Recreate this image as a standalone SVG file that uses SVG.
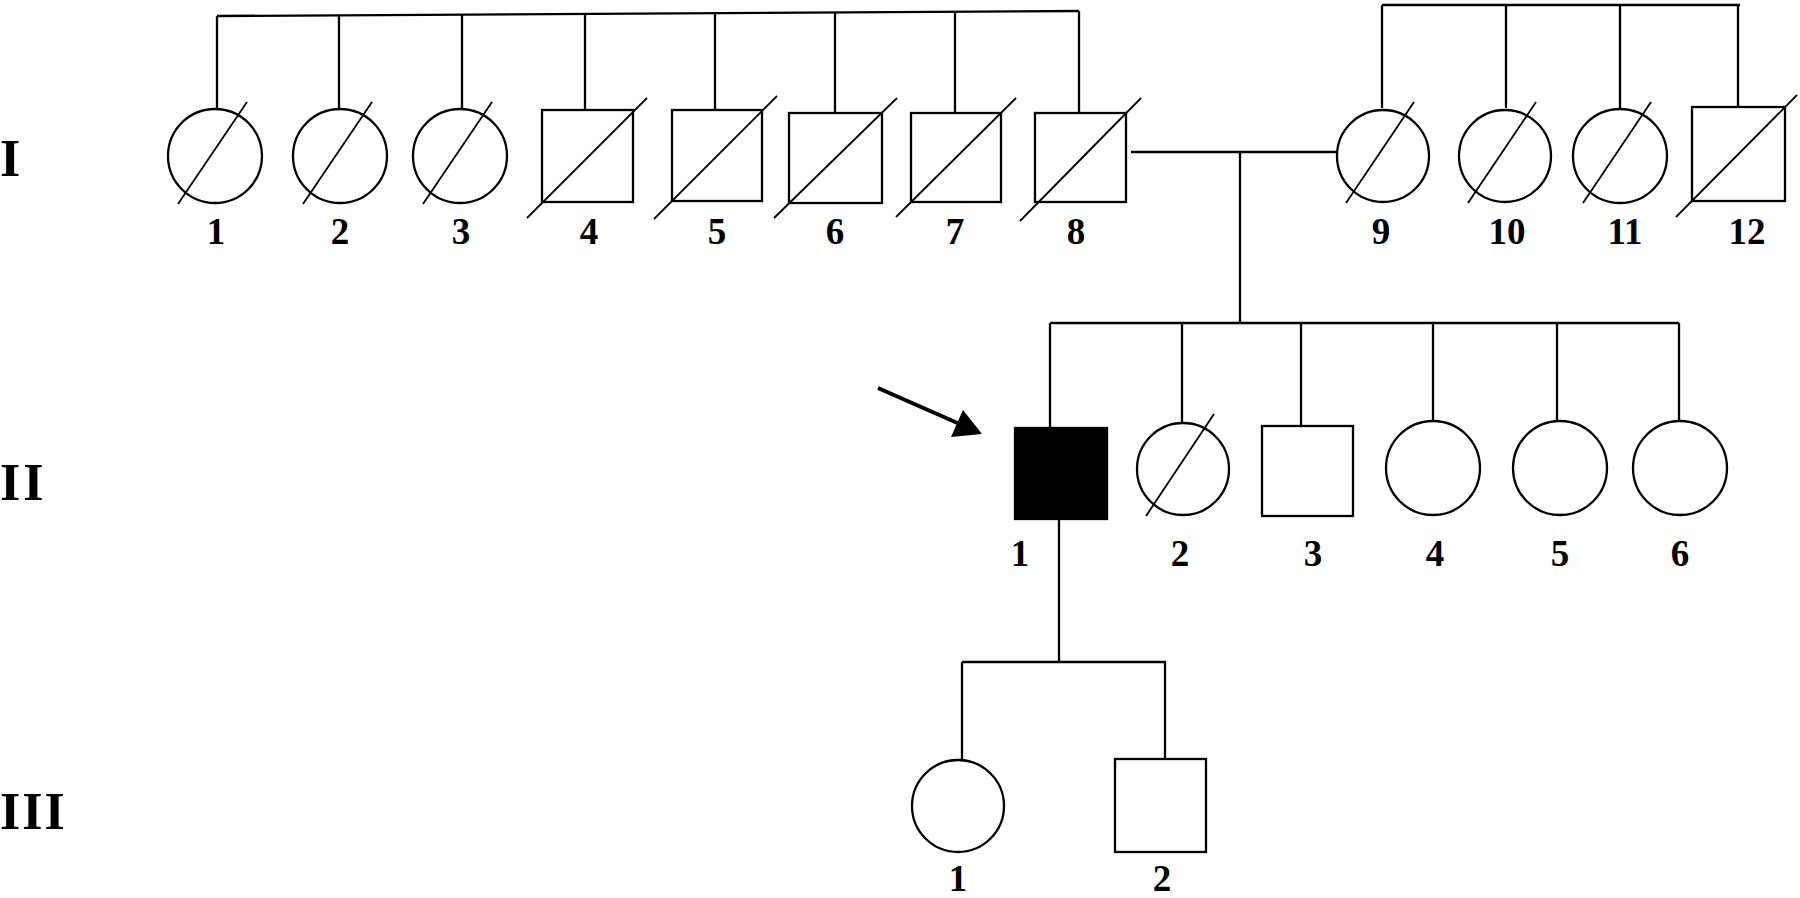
<svg xmlns="http://www.w3.org/2000/svg" width="1800" height="898" viewBox="0 0 1800 898">
<style>
.sym{fill:#fff;stroke:#000;stroke-width:2.3}
.aff{fill:#000;stroke:#000;stroke-width:2.3}
.dec{stroke:#000;stroke-width:1.8;fill:none}
.ln{stroke:#000;stroke-width:2.3;fill:none}
.lab{font-family:"Liberation Serif","Times New Roman",serif;font-size:37px;font-weight:bold;fill:#000;text-anchor:middle}
.gen{font-family:"Liberation Serif","Times New Roman",serif;font-size:52px;font-weight:bold;fill:#000}
</style>
<rect width="1800" height="898" fill="#fff"/>
<g id="generation-labels">
<text class="gen" x="0" y="176">I</text>
<text class="gen" x="0" y="500" letter-spacing="3">II</text>
<text class="gen" x="0" y="829" letter-spacing="2">III</text>
</g>
<g id="connectors">
<path class="ln" d="M217,16 L1079,11"/>
<path class="ln" d="M217,16 V109 M339,15 V109 M462,14 V109 M585,13 V110 M715,13 V110 M835,12 V113 M955,12 V113 M1079,11 V113"/>
<path class="ln" d="M1382,5 H1740 M1382,5 V108 M1506,5 V108 M1620,5 V108 M1738,5 V107"/>
<path class="ln" d="M1131,152 H1337 M1240,152 V323"/>
<path class="ln" d="M1050,323 H1679 M1050,323 V428 M1182,323 V423 M1301,323 V426 M1433,323 V423 M1557,323 V423 M1679,323 V423"/>
<path class="ln" d="M1059,519 V662 M962,662 H1166 M962,662 V759 M1165,662 V759"/>
<line x1="878" y1="388" x2="962" y2="425" stroke="#000" stroke-width="4"/>
<polygon points="982,434 963,410 951,437" fill="#000"/>
</g>
<g id="I-1"><circle class="sym" cx="215" cy="156" r="47"/><line class="dec" x1="178" y1="204" x2="247" y2="102"/><text class="lab" x="216" y="244">1</text></g>
<g id="I-2"><circle class="sym" cx="340" cy="156" r="47"/><line class="dec" x1="303" y1="204" x2="372" y2="102"/><text class="lab" x="340" y="244">2</text></g>
<g id="I-3"><circle class="sym" cx="460" cy="156" r="47"/><line class="dec" x1="423" y1="204" x2="492" y2="102"/><text class="lab" x="461" y="244">3</text></g>
<g id="I-4"><rect class="sym" x="542" y="110" width="91" height="92"/><line class="dec" x1="527" y1="218" x2="647" y2="98"/><text class="lab" x="589" y="244">4</text></g>
<g id="I-5"><rect class="sym" x="672" y="110" width="90" height="91"/><line class="dec" x1="654" y1="219" x2="777" y2="96"/><text class="lab" x="717" y="244">5</text></g>
<g id="I-6"><rect class="sym" x="789" y="113" width="93" height="90"/><line class="dec" x1="774" y1="218" x2="897" y2="98"/><text class="lab" x="835" y="244">6</text></g>
<g id="I-7"><rect class="sym" x="911" y="113" width="90" height="89"/><line class="dec" x1="896" y1="217" x2="1016" y2="98"/><text class="lab" x="955" y="244">7</text></g>
<g id="I-8"><rect class="sym" x="1035" y="113" width="91" height="89"/><line class="dec" x1="1020" y1="221" x2="1141" y2="98"/><text class="lab" x="1076" y="244">8</text></g>
<g id="I-9"><circle class="sym" cx="1383" cy="156" r="46"/><line class="dec" x1="1346" y1="203" x2="1414" y2="102"/><text class="lab" x="1381" y="244">9</text></g>
<g id="I-10"><circle class="sym" cx="1505" cy="156" r="46"/><line class="dec" x1="1468" y1="203" x2="1536" y2="102"/><text class="lab" x="1507" y="244">10</text></g>
<g id="I-11"><circle class="sym" cx="1620" cy="156" r="47"/><line class="dec" x1="1583" y1="203" x2="1651" y2="102"/><text class="lab" x="1625" y="244">11</text></g>
<g id="I-12"><rect class="sym" x="1692" y="107" width="93" height="94"/><line class="dec" x1="1676" y1="217" x2="1797" y2="95"/><text class="lab" x="1747" y="244">12</text></g>
<g id="II-1"><rect class="aff" x="1015" y="428" width="92" height="91"/><text class="lab" x="1020" y="566">1</text></g>
<g id="II-2"><circle class="sym" cx="1183" cy="469" r="46"/><line class="dec" x1="1146" y1="516" x2="1214" y2="414"/><text class="lab" x="1180" y="566">2</text></g>
<g id="II-3"><rect class="sym" x="1262" y="426" width="91" height="90"/><text class="lab" x="1313" y="566">3</text></g>
<g id="II-4"><circle class="sym" cx="1433" cy="468" r="47"/><text class="lab" x="1435" y="566">4</text></g>
<g id="II-5"><circle class="sym" cx="1560" cy="468" r="47"/><text class="lab" x="1560" y="566">5</text></g>
<g id="II-6"><circle class="sym" cx="1680" cy="468" r="47"/><text class="lab" x="1680" y="566">6</text></g>
<g id="III-1"><circle class="sym" cx="958" cy="806" r="46"/><text class="lab" x="958" y="891">1</text></g>
<g id="III-2"><rect class="sym" x="1115" y="759" width="91" height="93"/><text class="lab" x="1162" y="891">2</text></g>
</svg>
